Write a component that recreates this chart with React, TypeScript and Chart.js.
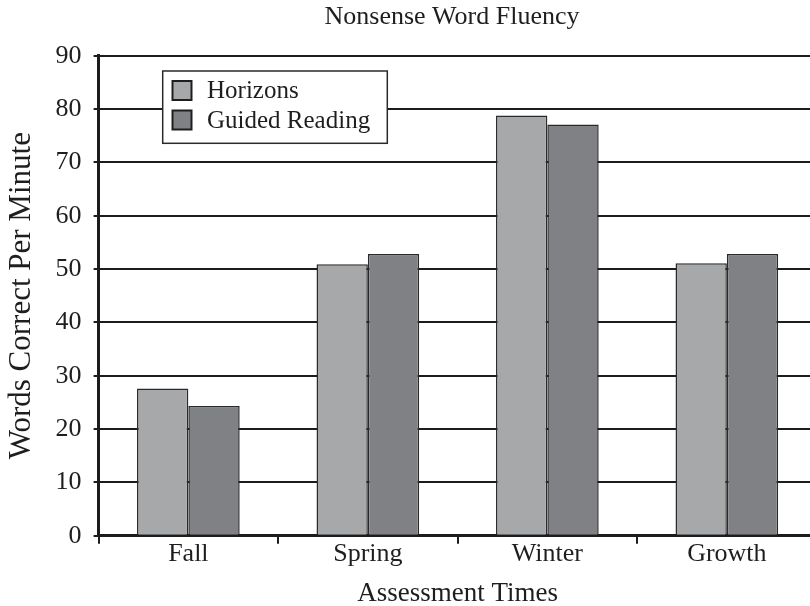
import React, { useEffect, useRef } from "react";
import { Chart, registerables } from "chart.js";

Chart.register(...registerables);

const categories = ["Fall", "Spring", "Winter", "Growth"];
const horizons = [27.6, 50.9, 78.8, 51.1];
const guidedReading = [24.3, 52.8, 77.1, 52.8];
const seriesNames = ["Horizons", "Guided Reading"];
const yTicks = [0, 10, 20, 30, 40, 50, 60, 70, 80, 90];
const chartTitle = "Nonsense Word Fluency";
const xTitle = "Assessment Times";
const yTitle = "Words Correct Per Minute";

const FAMILY = "'Liberation Serif', 'Times New Roman', serif";
const TEXT = "#1e1e1e";
const LINE = "#1c1c1c";

const titlePlugin = {
  id: "customTitle",
  afterDraw(chart: any) {
    const ctx = chart.ctx;
    ctx.save();
    ctx.font = `26px ${FAMILY}`;
    ctx.fillStyle = TEXT;
    ctx.textAlign = "center";
    ctx.textBaseline = "middle";
    ctx.fillText(chartTitle, 452, 17);
    ctx.restore();
  },
};

const legendPlugin = {
  id: "boxLegend",
  afterDatasetsDraw(chart: any) {
    const ctx = chart.ctx;
    const x0 = 162.7, y0 = 71, w = 224.6, h = 72.3;
    ctx.save();
    ctx.fillStyle = "#ffffff";
    ctx.fillRect(x0, y0, w, h);
    ctx.lineWidth = 1.5;
    ctx.strokeStyle = "#2a2a2a";
    ctx.strokeRect(x0, y0, w, h);
    const rows = [90.5, 120];
    chart.data.datasets.forEach((ds: any, i: number) => {
      const cy = rows[i];
      ctx.fillStyle = ds.backgroundColor;
      ctx.fillRect(172.5, cy - 9.5, 19, 19);
      ctx.lineWidth = 2;
      ctx.strokeStyle = "#1e1e1e";
      ctx.strokeRect(172.5, cy - 9.5, 19, 19);
      ctx.fillStyle = TEXT;
      ctx.font = `25px ${FAMILY}`;
      ctx.textAlign = "left";
      ctx.textBaseline = "middle";
      ctx.fillText(ds.label, 207, cy + 1);
    });
    ctx.restore();
  },
};

export default function App() {
  const canvasRef = useRef<HTMLCanvasElement | null>(null);

  useEffect(() => {
    const canvas = canvasRef.current;
    if (!canvas) return;
    const chart = new Chart(canvas, {
      type: "bar",
      data: {
        labels: categories,
        datasets: [
          {
            label: seriesNames[0],
            data: horizons,
            backgroundColor: "#a7a8aa",
            borderColor: "#2a2a2a",
            borderWidth: 1.5,
            categoryPercentage: 0.572,
            barPercentage: 1,
          },
          {
            label: seriesNames[1],
            data: guidedReading,
            backgroundColor: "#808185",
            borderColor: "#2a2a2a",
            borderWidth: 1.5,
            categoryPercentage: 0.572,
            barPercentage: 1,
          },
        ],
      },
      options: {
        responsive: false,
        devicePixelRatio: 1,
        animation: false,
        layout: { padding: { top: 55.7, left: 0, right: 13.4, bottom: 0 } },
        plugins: {
          legend: { display: false },
          title: { display: false },
          tooltip: { enabled: false },
        },
        scales: {
          x: {
            afterFit: (s: any) => {
              s.height = 70.3;
            },
            grid: {
              display: true,
              drawOnChartArea: false,
              drawTicks: true,
              tickLength: 8,
              offset: true,
              color: LINE,
              lineWidth: 2,
            },
            border: { display: true, color: LINE, width: 3 },
            ticks: {
              color: TEXT,
              padding: -3,
              font: { family: FAMILY, size: 26, lineHeight: 1 },
            },
            title: {
              display: true,
              text: xTitle,
              color: TEXT,
              padding: { top: 0, bottom: -1.5 },
              font: { family: FAMILY, size: 27, lineHeight: 1 },
            },
          },
          y: {
            min: 0,
            max: 90,
            afterFit: (s: any) => {
              s.width = 98.6;
            },
            afterBuildTicks: (s: any) => {
              s.ticks = yTicks.map((v) => ({ value: v }));
            },
            grid: {
              color: LINE,
              lineWidth: 2,
              drawTicks: true,
              tickLength: 5,
            },
            border: { display: true, color: LINE, width: 3 },
            ticks: {
              color: TEXT,
              padding: 12,
              font: { family: FAMILY, size: 26, lineHeight: 1 },
            },
            title: {
              display: true,
              text: yTitle,
              color: TEXT,
              padding: { top: 6.5, bottom: 0 },
              font: { family: FAMILY, size: 31, lineHeight: 1 },
            },
          },
        },
      },
      plugins: [legendPlugin, titlePlugin],
    });
    return () => chart.destroy();
  }, []);

  return (
    <div
      style={{
        position: "absolute",
        left: 0,
        top: 0,
        width: 810,
        height: 606,
        overflow: "hidden",
        background: "#ffffff",
      }}
    >
      <canvas
        ref={canvasRef}
        width={830}
        height={606}
        style={{ display: "block", width: 830, height: 606 }}
      />
    </div>
  );
}
